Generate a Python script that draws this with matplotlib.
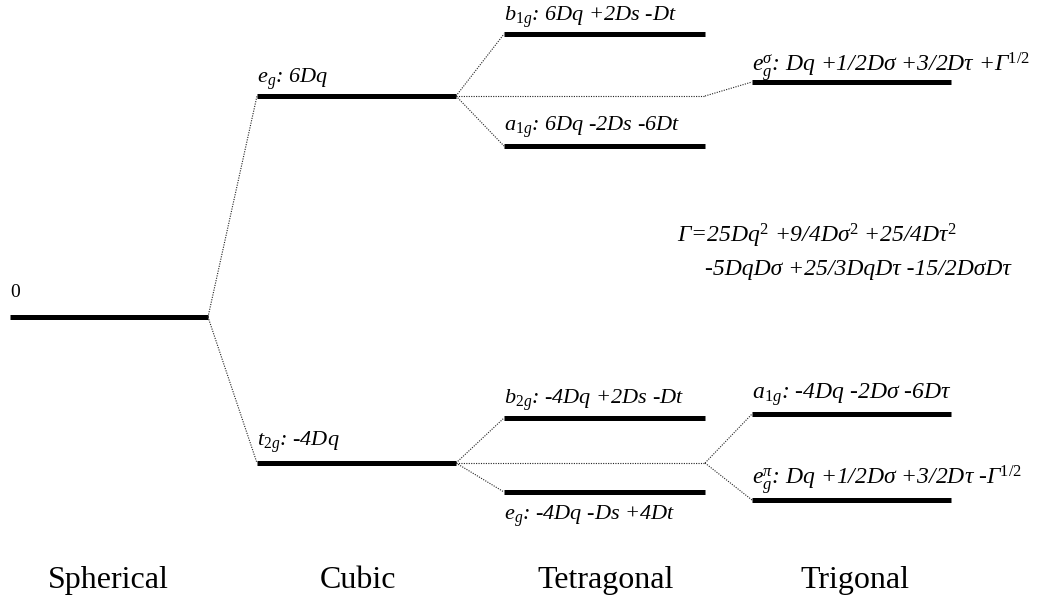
import matplotlib.pyplot as plt

plt.rcParams['font.family'] = ['Liberation Serif', 'DejaVu Serif']
plt.rcParams['mathtext.fontset'] = 'custom'
plt.rcParams['mathtext.rm'] = 'Liberation Serif'
plt.rcParams['mathtext.it'] = 'Liberation Serif:italic'

# columns of the diagram (left, right end of each level bar)
columns = ['Spherical', 'Cubic', 'Tetragonal', 'Trigonal']
col_x = [(10, 208), (257, 456), (504, 705), (752, 951)]
title_x = [108, 358, 606, 855]

# level heights (drawing units, top = 0)
spherical = [317]
cubic = [96, 463]                 # e_g, t_2g
tetragonal = [34, 146, 418, 492]  # b_1g, a_1g, b_2g, e_g
trigonal = [82, 414, 500]         # e_g^sigma, a_1g, e_g^pi

cubic_labels = ['e$_g$: 6Dq', 't$_{\\mathit{2g}}$: -4Dq']
tetragonal_labels = ['b$_{\\mathit{1g}}$: 6Dq +2Ds -Dt',
                     'a$_{\\mathit{1g}}$: 6Dq -2Ds -6Dt',
                     'b$_{\\mathit{2g}}$: -4Dq +2Ds -Dt',
                     'e$_g$: -4Dq -Ds +4Dt']
trigonal_labels = ['e$_g^{\\sigma}$: Dq +1/2Dσ +3/2Dτ +Γ$^{\\mathit{1/2}}$',
                   'a$_{\\mathit{1g}}$: -4Dq -2Dσ -6Dτ',
                   'e$_g^{\\pi}$: Dq +1/2Dσ +3/2Dτ -Γ$^{\\mathit{1/2}}$']
gamma_lines = ['Γ=25Dq$^{\\mathit{2}}$ +9/4Dσ$^{\\mathit{2}}$ +25/4Dτ$^{\\mathit{2}}$',
               '-5DqDσ +25/3DqDτ -15/2DσDτ']

fig = plt.figure(figsize=(10.41, 5.99), dpi=100)
ax = fig.add_axes([0, 0, 1, 1])
ax.set_xlim(0, 1041)
ax.set_ylim(599, 0)
ax.axis('off')

bar = dict(color='black', lw=3.6, solid_capstyle='butt')
dot = dict(color='#222222', lw=0.8, ls=(0, (1, 1.2)))
lab = dict(fontsize=16, style='italic', va='baseline', ha='left')
lab_greek = dict(lab, fontsize=17)


def levels(ci, ys):
    x0, x1 = col_x[ci]
    for y in ys:
        ax.plot([x0, x1], [y, y], **bar)


for ci, ys in enumerate([spherical, cubic, tetragonal, trigonal]):
    levels(ci, ys)

# splitting connectors
s_end = col_x[0][1]
for y in cubic:
    ax.plot([s_end, col_x[1][0]], [spherical[0], y], **dot)

c_end = col_x[1][1]
t_end = col_x[2][1]
for y0, ups in zip(cubic, [tetragonal[:2], tetragonal[2:]]):
    for y in ups:
        ax.plot([c_end, col_x[2][0]], [y0, y], **dot)
    ax.plot([c_end, t_end], [y0, y0], **dot)
for y in trigonal[:1]:
    ax.plot([t_end, col_x[3][0]], [cubic[0], y], **dot)
for y in trigonal[1:]:
    ax.plot([t_end, col_x[3][0]], [cubic[1], y], **dot)

# level labels
ax.text(10, spherical[0] - 20, '0', fontsize=14, va='baseline')
for y, t, dy in zip(cubic, cubic_labels, [-13, -17]):
    ax.text(col_x[1][0], y + dy, t, **lab)
for y, t, dy in zip(tetragonal, tetragonal_labels, [-13, -15, -14, 28]):
    ax.text(col_x[2][0], y + dy, t, **lab)
for y, t, dy in zip(trigonal, trigonal_labels, [-10, -15, -15]):
    ax.text(col_x[3][0], y + dy, t, **lab_greek)

ax.text(677, 243, gamma_lines[0], **lab_greek)
ax.text(705, 275, gamma_lines[1], **lab_greek)

# column titles
for name, x in zip(columns, title_x):
    ax.text(x, 588, name, fontsize=23, ha='center', va='baseline')

fig.savefig('out.png', dpi=100)
